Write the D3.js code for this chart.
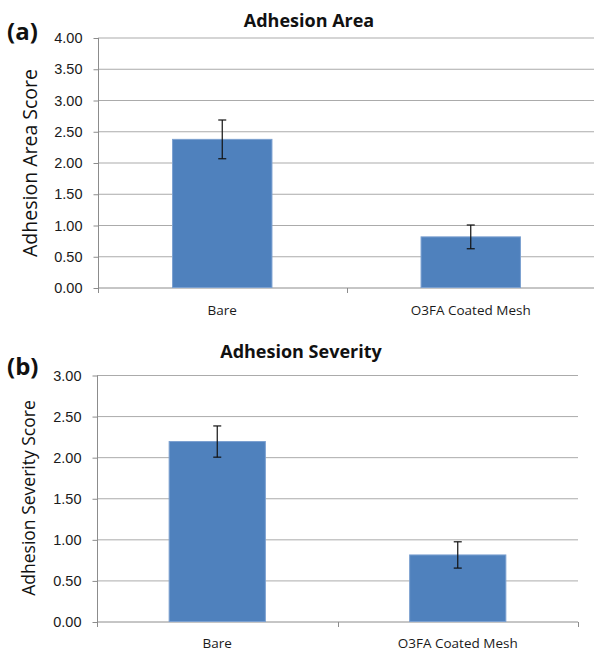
<!DOCTYPE html>
<html>
<head>
<meta charset="utf-8">
<script src="https://cdn.jsdelivr.net/npm/d3@7"></script>
<style>
  body { margin: 0; background: #fff; }
  svg { font-family: "Open Sans", "Noto Sans", sans-serif; }
</style>
</head>
<body>
<div id="chart"></div>
<script>
// data
var categories = ["Bare", "O3FA Coated Mesh"];

var areaMeans = [2.37, 0.81];
var areaErrors = [0.31, 0.19];
var areaTicks = [0, 0.5, 1, 1.5, 2, 2.5, 3, 3.5, 4];

var severityMeans = [2.19, 0.81];
var severityErrors = [0.19, 0.16];
var severityTicks = [0, 0.5, 1, 1.5, 2, 2.5, 3];

var svg = d3.select("#chart").append("svg")
    .attr("width", 594)
    .attr("height", 652);

function panel(opts) {
  var x = d3.scaleBand()
      .domain(categories)
      .range([opts.left, opts.right])
      .padding(0);

  var y = d3.scaleLinear()
      .domain([0, d3.max(opts.ticks)])
      .range([opts.bottom, opts.top]);

  var g = svg.append("g");

  // gridlines
  g.selectAll(".grid")
    .data(opts.ticks.filter(function(d){ return d > 0; }))
    .enter().append("line")
      .attr("x1", opts.left)
      .attr("x2", opts.right)
      .attr("y1", function(d){ return y(d) + 0.5; })
      .attr("y2", function(d){ return y(d) + 0.5; })
      .attr("stroke", "#ababab")
      .attr("stroke-width", 1);

  // y axis
  var yAxis = d3.axisLeft(y)
      .tickValues(opts.ticks)
      .tickFormat(d3.format(".2f"))
      .tickSize(5)
      .tickPadding(11);
  var yG = g.append("g")
      .attr("transform", "translate(" + (opts.left + 0.5) + ",0.5)")
      .call(yAxis);
  yG.select(".domain").attr("stroke", "#8c8c8c").attr("d", "M0," + opts.top + "V" + (opts.bottom + 5));
  yG.selectAll(".tick line").attr("stroke", "#8c8c8c");
  yG.selectAll(".tick text")
      .attr("fill", "#1a1a1a")
      .style("font-size", "14.5px");

  // x axis
  var xG = g.append("g")
      .attr("transform", "translate(0," + (opts.bottom + 0.5) + ")");
  xG.append("line")
      .attr("x1", opts.left)
      .attr("x2", opts.right)
      .attr("stroke", "#8c8c8c");
  xG.selectAll(".xtick")
    .data(categories.map(function(c){ return x(c); }).concat([opts.right]))
    .enter().append("line")
      .attr("x1", function(d){ return Math.round(d) + 0.5; })
      .attr("x2", function(d){ return Math.round(d) + 0.5; })
      .attr("y1", 0)
      .attr("y2", 5)
      .attr("stroke", "#8c8c8c");
  xG.selectAll(".xlabel")
    .data(categories)
    .enter().append("text")
      .attr("x", function(d){ return x(d) + x.bandwidth() / 2; })
      .attr("y", opts.labelDy)
      .attr("text-anchor", "middle")
      .attr("fill", "#1a1a1a")
      .style("font-size", "13.5px")
      .text(function(d){ return d; });

  // bars
  var bw = x.bandwidth() * 0.4;
  g.selectAll(".bar")
    .data(opts.means)
    .enter().append("rect")
      .attr("x", function(d, i){ return x(categories[i]) + (x.bandwidth() - bw) / 2; })
      .attr("y", function(d){ return y(d); })
      .attr("width", bw)
      .attr("height", function(d){ return y(0) - y(d); })
      .attr("fill", "#4f81bd")
      .attr("stroke", "#7ba0d0")
      .attr("stroke-width", 1);

  // error bars
  var err = g.selectAll(".err")
    .data(opts.means)
    .enter().append("g")
      .attr("stroke", "#111")
      .attr("stroke-width", 1.2);
  err.append("line")
      .attr("x1", function(d, i){ return x(categories[i]) + x.bandwidth() / 2; })
      .attr("x2", function(d, i){ return x(categories[i]) + x.bandwidth() / 2; })
      .attr("y1", function(d, i){ return y(d + opts.errors[i]); })
      .attr("y2", function(d, i){ return y(d - opts.errors[i]); });
  [1, -1].forEach(function(s){
    err.append("line")
        .attr("x1", function(d, i){ return x(categories[i]) + x.bandwidth() / 2 - 4; })
        .attr("x2", function(d, i){ return x(categories[i]) + x.bandwidth() / 2 + 4; })
        .attr("y1", function(d, i){ return y(d + s * opts.errors[i]); })
        .attr("y2", function(d, i){ return y(d + s * opts.errors[i]); });
  });

  // title
  svg.append("text")
      .attr("x", opts.titleX)
      .attr("y", opts.titleY)
      .attr("text-anchor", "middle")
      .attr("font-weight", "bold")
      .style("font-size", "18px")
      .attr("fill", "#111")
      .text(opts.title);

  // panel letter
  svg.append("text")
      .attr("x", 7)
      .attr("y", opts.letterY)
      .attr("font-weight", "bold")
      .style("font-size", "24px")
      .attr("fill", "#111")
      .text(opts.letter);

  // y title
  svg.append("text")
      .attr("transform", "translate(" + opts.yTitleX + "," + opts.yTitleY + ") rotate(-90)")
      .attr("text-anchor", "middle")
      .style("font-size", opts.yTitleSize)
      .attr("fill", "#111")
      .text(opts.yTitle);
}

panel({
  means: areaMeans, errors: areaErrors, ticks: areaTicks,
  left: 98, right: 595, top: 37.5, bottom: 287.5,
  labelDy: 27, title: "Adhesion Area", titleX: 309, titleY: 27,
  letter: "(a)", letterY: 40, yTitle: "Adhesion Area Score",
  yTitleX: 37, yTitleY: 163, yTitleSize: "19.5px"
});

panel({
  means: severityMeans, errors: severityErrors, ticks: severityTicks,
  left: 97, right: 578, top: 375, bottom: 621.5,
  labelDy: 26, title: "Adhesion Severity", titleX: 301, titleY: 358,
  letter: "(b)", letterY: 375, yTitle: "Adhesion Severity Score",
  yTitleX: 35, yTitleY: 498, yTitleSize: "17.5px"
});
</script>
</body>
</html>
